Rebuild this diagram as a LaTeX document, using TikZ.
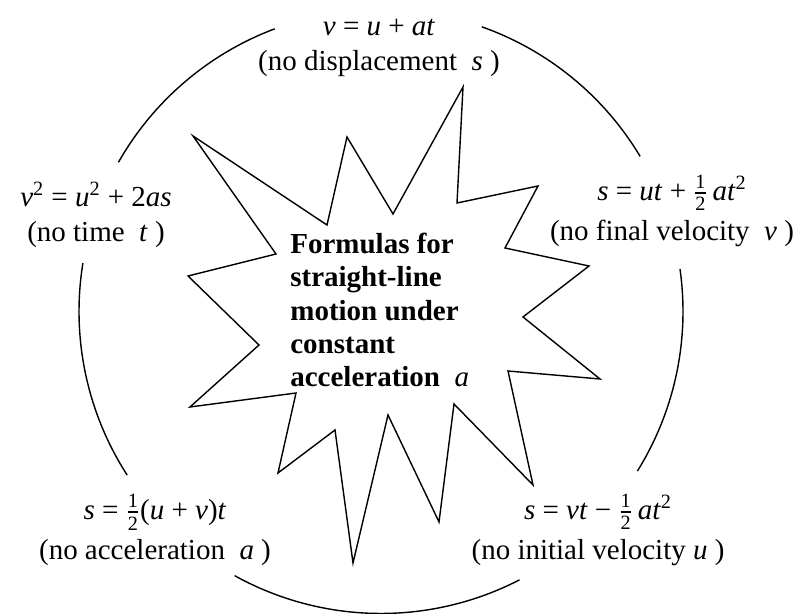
\documentclass[tikz,border=0pt]{standalone}
\usepackage{fontspec}
\usepackage{amsmath}
\setmainfont{Liberation Serif}
\usetikzlibrary{positioning}
\newcommand{\hlf}{\ensuremath{\tfrac{\text{1}}{\text{2}}}}
\tikzset{
  formula/.style={align=center,inner sep=0pt,font=\fontsize{16.5}{19.8}\selectfont},
  title/.style={align=left,inner sep=0pt,anchor=west,font=\fontsize{16.5}{19}\selectfont\bfseries},
  ring/.style={line width=0.8pt},
  burst/.style={line width=0.8pt,line join=miter,fill=white}
}
\begin{document}
\begin{tikzpicture}[x=0.02cm,y=0.02cm]
  \useasboundingbox (0,0) rectangle (800,614);
  \coordinate (c) at (381,302.5);
  \draw[ring] (c) ++(30.9:302) arc[start angle=30.9,end angle=70.5,radius=302];
  \draw[ring] (c) ++(110.6:302) arc[start angle=110.6,end angle=150.4,radius=302];
  \draw[ring] (c) ++(170.8:302) arc[start angle=170.8,end angle=212.8,radius=302];
  \draw[ring] (c) ++(241:302) arc[start angle=241,end angle=297.3,radius=302];
  \draw[ring] (c) ++(-31.9:302) arc[start angle=-31.9,end angle=8.1,radius=302];
  \draw[burst] (463,527) -- (457,411) -- (538,428) -- (505,366) -- (589,348) -- (523,297)
    -- (600,235) -- (508,243) -- (533,129) -- (454,210) -- (439,92) -- (388,199)
    -- (353,51) -- (335,184) -- (278,141) -- (296,221) -- (190,207) -- (259,269)
    -- (188,338) -- (276,360) -- (193,478) -- (327,389) -- (347,477) -- (393,400) -- cycle;
  \node[title] (title) at (290,304) {Formulas for\\straight-line\\motion under\\constant\\acceleration \ \textnormal{\textit{a}}};
  \node[formula] (nos) at (379,566) {\textit{v} = \textit{u} + \textit{at}\\(no displacement \ \textit{s} )};
  \node[formula] (nov) at (672,403) {\textit{s} = \textit{ut} + \hlf\,\textit{at}\textsuperscript{2}\\[3pt](no final velocity \ \textit{v} )};
  \node[formula] (not) at (96,399) {\textit{v}\textsuperscript{2} = \textit{u}\textsuperscript{2} + 2\textit{as}\\(no time \ \textit{t} )};
  \node[formula] (noa) at (155,84) {\textit{s} = \hlf(\textit{u} + \textit{v})\textit{t}\\[3pt](no acceleration \ \textit{a} )};
  \node[formula] (nou) at (598,84) {\textit{s} = \textit{vt} − \hlf\,\textit{at}\textsuperscript{2}\\[3pt](no initial velocity \textit{u} )};
\end{tikzpicture}
\end{document}
